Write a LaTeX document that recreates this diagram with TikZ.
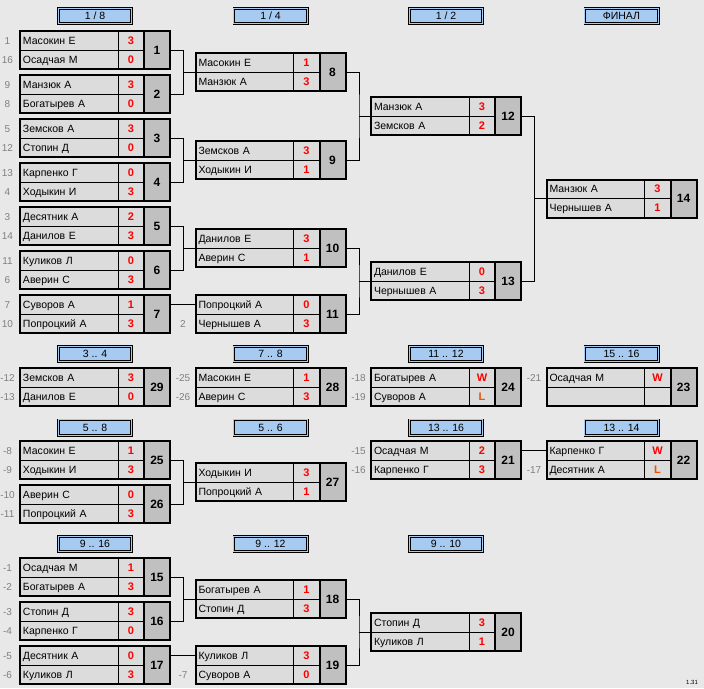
\documentclass[tikz,border=0pt]{standalone}
\usepackage{fontspec}
\setmainfont{Liberation Sans}

\definecolor{pagegray}{RGB}{232,232,232}
\definecolor{cellgray}{RGB}{220,220,220}
\definecolor{numgray}{RGB}{192,192,192}
\definecolor{hdrblue}{RGB}{166,202,240}
\definecolor{seedgray}{RGB}{128,128,128}
\definecolor{losscol}{RGB}{240,80,0}

\begin{document}
\begin{tikzpicture}[x=1pt,y=-1pt,
    namecell/.style={draw,line width=0.7pt,fill=cellgray,anchor=north west,outer sep=0pt,
      text width=92pt,inner xsep=3pt,inner ysep=0pt,minimum height=19pt,align=left,
      text height=8pt,text depth=1pt,font=\fontsize{10.5}{12}\selectfont},
    scorecell/.style={draw,line width=0.7pt,fill=cellgray,anchor=north west,outer sep=0pt,
      minimum width=26pt,minimum height=19pt,inner sep=0pt,text=red,
      text height=8pt,text depth=1pt,font=\fontsize{11}{12}\selectfont\bfseries},
    numcell/.style={draw,line width=0.7pt,fill=numgray,anchor=north west,outer sep=0pt,
      minimum width=26pt,minimum height=38pt,inner sep=0pt,
      font=\fontsize{12}{14}\selectfont\bfseries},
    boxline/.style={line width=2pt},
    header/.style={draw,line width=0.7pt,double=hdrblue,double distance=1.2pt,fill=hdrblue,
      minimum width=73.4pt,minimum height=15.4pt,inner sep=0pt,
      font=\fontsize{10.5}{12}\selectfont},
    seed/.style={text=seedgray,inner sep=0pt,font=\fontsize{10}{12}\selectfont},
    link/.style={line width=0.7pt}]
    \useasboundingbox (0,0) rectangle (704,688);
    \fill[pagegray] (0,0) rectangle (704,688);
    % round headers
    \node[header] (h18) at (95,16) {1 / 8};
    \node[header] (h14) at (270.5,16) {1 / 4};
    \node[header] (h12) at (446,16) {1 / 2};
    \node[header] (hfin) at (621.5,16) {ФИНАЛ};
    \node[header] (h34) at (95,354) {3 .. 4};
    \node[header] (h78) at (270.5,354) {7 .. 8};
    \node[header] (h1112) at (446,354) {11 .. 12};
    \node[header] (h1516) at (621.5,354) {15 .. 16};
    \node[header] (h58) at (95,427.5) {5 .. 8};
    \node[header] (h56) at (270.5,427.5) {5 .. 6};
    \node[header] (h1316) at (446,427.5) {13 .. 16};
    \node[header] (h1314) at (621.5,427.5) {13 .. 14};
    \node[header] (h916) at (95,544) {9 .. 16};
    \node[header] (h912) at (270.5,544) {9 .. 12};
    \node[header] (h910) at (446,544) {9 .. 10};
    % matches
    \foreach \n/\x/\y/\pa/\sa/\pb/\sb in {
      1/20/31/Масокин Е/3/Осадчая М/0,
      2/20/75/Манзюк А/3/Богатырев А/0,
      3/20/119/Земсков А/3/Стопин Д/0,
      4/20/163/Карпенко Г/0/Ходыкин И/3,
      5/20/207/Десятник А/2/Данилов Е/3,
      6/20/251/Куликов Л/0/Аверин С/3,
      7/20/295/Суворов А/1/Попроцкий А/3,
      8/195.5/53/Масокин Е/1/Манзюк А/3,
      9/195.5/141/Земсков А/3/Ходыкин И/1,
      10/195.5/229/Данилов Е/3/Аверин С/1,
      11/195.5/295/Попроцкий А/0/Чернышев А/3,
      12/371/97/Манзюк А/3/Земсков А/2,
      13/371/262/Данилов Е/0/Чернышев А/3,
      14/546.5/179.5/Манзюк А/3/Чернышев А/1,
      29/20/368/Земсков А/3/Данилов Е/0,
      28/195.5/368/Масокин Е/1/Аверин С/3,
      24/371/368/Богатырев А/W/Суворов А/{\color{losscol}L},
      23/546.5/368/Осадчая М/W/{}/{},
      25/20/441/Масокин Е/1/Ходыкин И/3,
      26/20/485/Аверин С/0/Попроцкий А/3,
      27/195.5/463/Ходыкин И/3/Попроцкий А/1,
      21/371/441/Осадчая М/2/Карпенко Г/3,
      22/546.5/441/Карпенко Г/W/Десятник А/{\color{losscol}L},
      15/20/558/Осадчая М/1/Богатырев А/3,
      16/20/602/Стопин Д/3/Карпенко Г/0,
      17/20/646/Десятник А/0/Куликов Л/3,
      18/195.5/580/Богатырев А/1/Стопин Д/3,
      19/195.5/646/Куликов Л/3/Суворов А/0,
      20/371/613/Стопин Д/3/Куликов Л/1}
    {
      \node[namecell] (m\n-a) at (\x,\y) {\pa};
      \node[scorecell] (m\n-as) at (m\n-a.north east) {\sa};
      \node[namecell] (m\n-b) at (m\n-a.south west) {\pb};
      \node[scorecell] (m\n-bs) at (m\n-b.north east) {\sb};
      \node[numcell] (m\n) at (m\n-as.north east) {\n};
      \draw[boxline] (m\n-a.north west) rectangle (m\n.south east);
      \draw[boxline] (m\n.north west) -- (m\n.south west);
    }
    % seeds and places
    \foreach \m/\r/\t in {1/a/1, 1/b/16, 2/a/9, 2/b/8, 3/a/5, 3/b/12, 4/a/13, 4/b/4,
      5/a/3, 5/b/14, 6/a/11, 6/b/6, 7/a/7, 7/b/10, 11/b/2,
      29/a/-12, 29/b/-13, 28/a/-25, 28/b/-26, 24/a/-18, 24/b/-19, 23/a/-21,
      25/a/-8, 25/b/-9, 26/a/-10, 26/b/-11, 21/a/-15, 21/b/-16, 22/b/-17,
      15/a/-1, 15/b/-2, 16/a/-3, 16/b/-4, 17/a/-5, 17/b/-6, 19/b/-7}
      \node[seed] (s\m\r) at ([xshift=-12.5pt,yshift=-1pt]m\m-\r.west) {\t};
    % brackets
    \foreach \a/\b/\c in {1/2/8, 3/4/9, 5/6/10, 8/9/12, 10/11/13, 12/13/14,
      25/26/27, 15/16/18, 18/19/20}
    {
      \coordinate (j\c) at ([xshift=-12pt]m\c-a.south west);
      \draw[link] (m\a.east) -| (j\c) |- (m\b.east);
      \draw[link] (j\c) -- (m\c-a.south west);
    }
    \draw[link] (m7.east |- m11-a.west) -- (m11-a.west);
    \draw[link] (m21.east |- m22-a.west) -- (m22-a.west);
    \draw[link] (m17.east |- m19-a.west) -- (m19-a.west);
    \node[inner sep=0pt,font=\fontsize{6}{7}\selectfont] (ver) at (692,682) {1.31};
\end{tikzpicture}
\end{document}
